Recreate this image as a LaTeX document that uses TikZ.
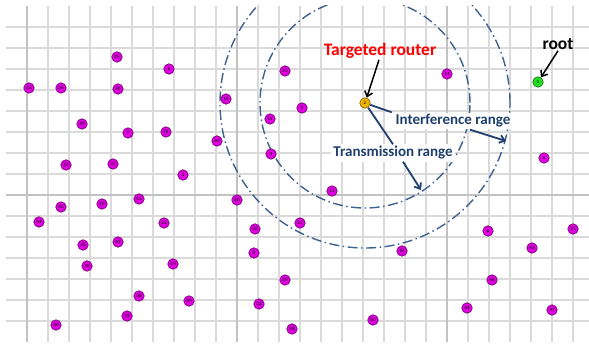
\documentclass[tikz,border=0pt]{standalone}
\usepackage{fontspec}
\setmainfont{Carlito}
\usetikzlibrary{arrows.meta}
\definecolor{gridc}{HTML}{DADADA}
\definecolor{gridm}{HTML}{C2C2C2}
\definecolor{ringc}{HTML}{3F6190}
\definecolor{navy}{HTML}{1F3F6E}
\definecolor{nodefill}{HTML}{DE00DE}
\definecolor{nodeline}{HTML}{6E006E}
\definecolor{rootfill}{HTML}{22DD22}
\definecolor{rootline}{HTML}{107010}
\definecolor{rtrfill}{HTML}{F2B400}
\definecolor{rtrline}{HTML}{7A5A00}
\begin{document}
\begin{tikzpicture}[x=1pt,y=-1pt,
  sensor/.style={circle,draw=nodeline,fill=nodefill,line width=0.6pt,minimum size=10.5pt,inner sep=0pt,font=\fontsize{5}{5}\selectfont},
  rootnode/.style={sensor,draw=rootline,fill=rootfill},
  rtrnode/.style={sensor,draw=rtrline,fill=rtrfill},
  ring/.style={draw=ringc,line width=1.4pt,dash pattern=on 10pt off 3.5pt on 1.5pt off 3.5pt},
  minorline/.style={draw=gridc,line width=1.2pt},
  majorline/.style={draw=gridm,line width=1.8pt},
  rangelbl/.style={fill=white,text=navy,font=\fontsize{15}{15}\selectfont\bfseries,inner sep=2pt},
  calllbl/.style={font=\fontsize{17.5}{17.5}\selectfont\bfseries,inner sep=1pt},
  bluearrow/.style={draw=navy,line width=1.8pt,-{Straight Barb[length=5pt,width=8pt]}},
  blueline/.style={draw=navy,line width=1.8pt},
  blackarrow/.style={draw=black,line width=1.5pt,-{Straight Barb[length=5pt,width=8pt]}}]
\useasboundingbox[fill=white] (0,0) rectangle (589,347);
% grid
\foreach \x in {27,48,...,573} \draw[minorline] (\x,6) -- (\x,342);
\foreach \y in {27,48,...,321} \draw[minorline] (6,\y) -- (589,\y);
\foreach \x in {27,237,447} \draw[majorline] (\x,6) -- (\x,342);
\draw[majorline] (6,195) -- (589,195);
% routers
\node[rtrnode] (rtr) at (365,103) {2};
\node[rootnode] (root) at (538,82) {1};
% ranges
\begin{scope}
\clip (6,6) rectangle (589,342);
\draw[ring] (rtr.center) circle[radius=105pt];
\draw[ring] (rtr.center) circle[radius=145pt];
\end{scope}
% sensors
\foreach \p/\n in {
 {(117,57)}/25, {(169,69)}/5, {(29,88)}/16, {(61,88)}/24, {(118,89)}/40,
 {(285,71)}/21, {(447,74)}/14, {(226,99)}/16, {(302,108)}/9, {(82,124)}/49,
 {(270,119)}/41, {(128,133)}/7, {(166,132)}/18, {(217,141)}/47, {(271,154)}/4,
 {(66,165)}/23, {(113,164)}/31, {(183,175)}/3, {(544,158)}/5, {(332,191)}/11,
 {(139,199)}/15, {(102,204)}/10, {(61,207)}/45, {(237,200)}/20, {(39,222)}/34,
 {(164,223)}/22, {(300,223)}/27, {(255,229)}/33, {(573,229)}/31, {(488,231)}/6,
 {(118,242)}/42, {(83,245)}/35, {(532,248)}/43, {(254,253)}/8, {(402,251)}/34,
 {(87,266)}/36, {(173,264)}/19, {(285,280)}/29, {(492,280)}/46, {(139,296)}/38,
 {(189,301)}/29, {(259,304)}/32, {(467,308)}/44, {(552,310)}/37, {(127,316)}/39,
 {(56,325)}/30, {(292,329)}/28, {(373,320)}/50}
 \node[sensor] (s\n-\p) at \p {\n};
% labels
\node[calllbl,text=red] (tgt) at (380,51) {Targeted router};
\node[calllbl] (rootlbl) at (558,44) {root};
\node[rangelbl,minimum width=122pt] (intlbl) at (453,121) {Interference range};
\node[rangelbl,minimum width=122pt] (trlbl) at (393,153) {Transmission range};
\coordinate (intend) at (506,141);
\coordinate (trend) at (421,190);
% connectors
\draw[blackarrow] ([xshift=-1pt]tgt.south) -- (rtr);
\draw[blackarrow] (rootlbl.south) -- (root);
\draw[blueline] (rtr) -- (intlbl.north west);
\draw[blueline] (rtr) -- (trlbl.north);
\draw[bluearrow] ([xshift=17pt]intlbl.south) -- (intend);
\draw[bluearrow] ([xshift=10pt]trlbl.south) -- (trend);
\end{tikzpicture}
\end{document}
